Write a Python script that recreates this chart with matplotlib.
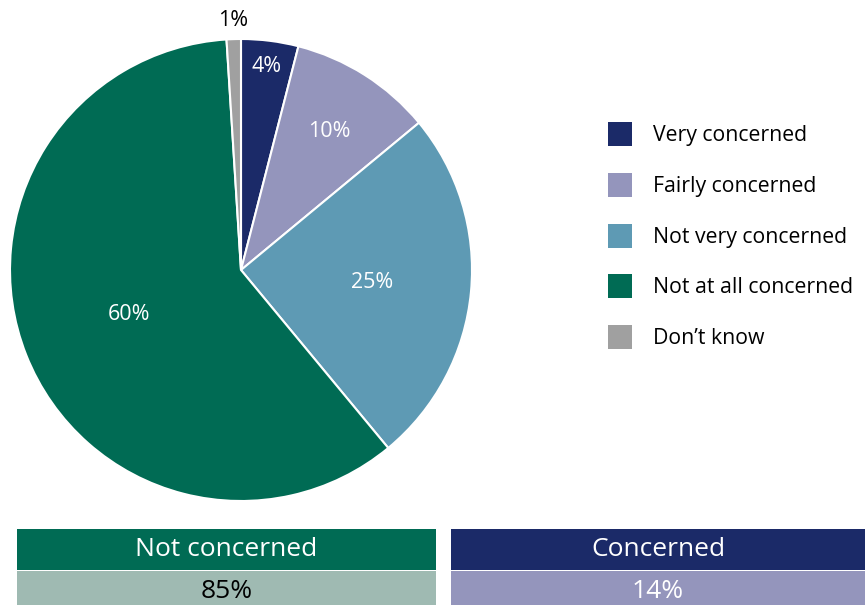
import matplotlib.pyplot as plt
from matplotlib.patches import Rectangle
import numpy as np

plt.rcParams['font.family'] = ['Open Sans', 'DejaVu Sans']

# survey responses
categories = ['Very concerned', 'Fairly concerned', 'Not very concerned',
              'Not at all concerned', 'Don\u2019t know']
shares = [4, 10, 25, 60, 1]
colors = ['#1b2a68', '#9495bc', '#5e9ab4', '#006b54', '#a0a0a0']

# grouped totals shown under the pie
groups = ['Not concerned', 'Concerned']
group_totals = [85, 14]
group_head = ['#006b54', '#1b2a68']
group_body = ['#9fbab2', '#9495bc']
group_text = ['black', 'white']

W, H = 865, 605
fig = plt.figure(figsize=(W / 100, H / 100), dpi=100)

# pie axes: centre (241, 270), radius 231 px
cx, cy, r = 241, 270, 231
ax = fig.add_axes([(cx - r) / W, (H - cy - r) / H, 2 * r / W, 2 * r / H])
wedges, _ = ax.pie(shares, colors=colors, startangle=90, counterclock=False,
                   wedgeprops=dict(edgecolor='white', linewidth=1.5))
ax.set_xlim(-1, 1)
ax.set_ylim(-1, 1)

# label radius for each wedge
label_r = [0.89, 0.71, 0.57, 0.52, 1.08]
for w, s, lr in zip(wedges, shares, label_r):
    ang = np.deg2rad((w.theta1 + w.theta2) / 2)
    col = 'black' if lr > 1 else 'white'
    ax.text(lr * np.cos(ang), lr * np.sin(ang), f'{s}%', ha='center', va='center',
            fontsize=15.5, color=col)

# legend drawn by hand
for i, (cat, col) in enumerate(zip(categories, colors)):
    yc = 134 + i * 50.8
    fig.patches.append(Rectangle((608 / W, 1 - (yc + 12) / H), 24 / W, 24 / H,
                                 transform=fig.transFigure, facecolor=col,
                                 edgecolor='none'))
    fig.text(653 / W, 1 - (yc + 1.5) / H, cat, ha='left', va='center', fontsize=15.3)

# summary boxes
box_x = [(17, 436), (451, 865)]
for (x0, x1), g, tot, hc, bc, tc in zip(box_x, groups, group_totals,
                                        group_head, group_body, group_text):
    fig.patches.append(Rectangle((x0 / W, 1 - 570 / H), (x1 - x0) / W, 41 / H,
                                 transform=fig.transFigure, facecolor=hc,
                                 edgecolor='none'))
    fig.patches.append(Rectangle((x0 / W, 0), (x1 - x0) / W, 34 / H,
                                 transform=fig.transFigure, facecolor=bc,
                                 edgecolor='none'))
    xm = (x0 + x1) / 2 / W
    fig.text(xm, 1 - 550 / H, g, ha='center', va='center', fontsize=19,
             color='white')
    fig.text(xm, 1 - 592 / H, f'{tot}%', ha='center', va='center', fontsize=19,
             color=tc)

fig.savefig('out.png', dpi=100)
